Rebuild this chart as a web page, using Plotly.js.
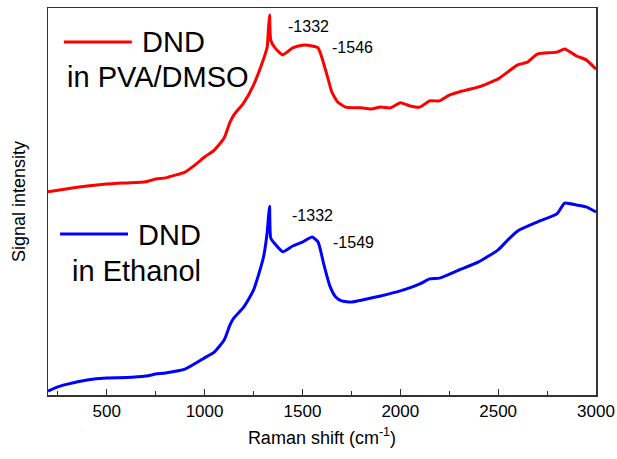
<!DOCTYPE html>
<html>
<head>
<meta charset="utf-8">
<script src="https://cdn.plot.ly/plotly-3.0.1.min.js"></script>
<style>html,body{margin:0;padding:0;background:#fff;}#chart{width:617px;height:459px;}</style>
</head>
<body>
<div id="chart"></div>
<script>
// Raman shift (cm^-1)
const redX = [200,300,400,500,600,700,750,800,850,900,950,1000,1050,1100,1130,1150,1200,1250,1300,1320,1326,1332,1338,1360,1400,1450,1500,1550,1580,1600,1630,1650,1680,1720,1800,1850,1900,1950,2000,2050,2100,2150,2200,2250,2300,2400,2500,2550,2600,2650,2700,2800,2840,2900,2950,3000];
const redY = [52.5,53.3,54.0,54.5,54.8,55.1,55.8,56.1,56.8,57.6,59.4,61.5,63.3,66.4,70.5,72.4,75.5,80.1,86.6,89.9,94.3,98.2,91.7,89.7,87.9,89.7,90.4,90.2,89.7,87.1,81.9,78.3,75.7,74.4,74.2,73.9,74.4,74.2,75.5,74.7,74.4,76.0,76.0,77.5,78.3,79.6,81.7,83.5,85.3,86.0,88.1,88.6,89.4,87.6,86.6,84.2];
const blueX = [200,250,300,400,500,600,700,750,800,900,1000,1050,1100,1130,1150,1200,1250,1300,1320,1326,1332,1338,1360,1400,1450,1500,1550,1580,1610,1640,1670,1700,1750,1800,1900,2000,2100,2150,2200,2300,2400,2500,2550,2600,2700,2800,2840,2900,2950,3000];
const blueY = [1.0,2.1,2.8,3.9,4.4,4.5,4.9,5.4,5.7,6.7,9.6,11.1,14.2,18.1,19.9,22.7,27.1,35.4,42.1,45.7,48.8,40.6,39.0,37.0,38.5,39.5,40.8,39.5,33.6,28.2,25.3,24.3,24.0,24.5,25.6,26.9,28.7,30.0,30.2,32.3,34.4,37.5,40.1,42.4,44.7,46.8,49.6,49.1,48.6,47.3];
const xTickVals = [500,1000,1500,2000,2500,3000];
const xTickText = ['500','1000','1500','2000','2500','3000'];
const peakLabels = [
  {x:1416, y:95.1, text:'-1332'},
  {x:1641, y:89.7, text:'-1546'},
  {x:1437, y:46.5, text:'-1332'},
  {x:1646, y:39.3, text:'-1549'}
];
const seriesNames = ['DND<br>in PVA/DMSO','DND<br>in Ethanol'];

const FONT = 'Liberation Sans, Arial, sans-serif';
const traces = [
  {x:redX, y:redY, mode:'lines', line:{color:'#ff0000', width:3, shape:'spline', smoothing:0.5}, name:seriesNames[0], showlegend:false},
  {x:blueX, y:blueY, mode:'lines', line:{color:'#0000ff', width:3, shape:'spline', smoothing:0.5}, name:seriesNames[1], showlegend:false}
];

const annotations = peakLabels.map(p => ({x:p.x, y:p.y, xref:'x', yref:'y', text:p.text, showarrow:false, xanchor:'left', yanchor:'middle', font:{family:FONT, size:16, color:'#000'}}));
annotations.push(
  {x:0.168, y:0.912, xref:'paper', yref:'paper', text:'DND', showarrow:false, xanchor:'left', yanchor:'middle', font:{family:FONT, size:29, color:'#000'}},
  {x:0.031, y:0.822, xref:'paper', yref:'paper', text:'in PVA/DMSO', showarrow:false, xanchor:'left', yanchor:'middle', font:{family:FONT, size:29, color:'#000'}},
  {x:0.161, y:0.413, xref:'paper', yref:'paper', text:'DND', showarrow:false, xanchor:'left', yanchor:'middle', font:{family:FONT, size:29, color:'#000'}},
  {x:0.040, y:0.320, xref:'paper', yref:'paper', text:'in Ethanol', showarrow:false, xanchor:'left', yanchor:'middle', font:{family:FONT, size:29, color:'#000'}}
);

const shapes = [
  {type:'line', xref:'paper', yref:'paper', x0:0.029, x1:0.153, y0:0.912, y1:0.912, line:{color:'#ff0000', width:3}},
  {type:'line', xref:'paper', yref:'paper', x0:0.022, x1:0.146, y0:0.416, y1:0.416, line:{color:'#0000ff', width:3}}
];

const layout = {
  width:617, height:459,
  margin:{l:48, r:21, t:8, b:64},
  paper_bgcolor:'#fff', plot_bgcolor:'#fff',
  showlegend:false,
  xaxis:{
    range:[200,3000], showgrid:false, zeroline:false,
    showline:true, mirror:true, linecolor:'#333', linewidth:1.5,
    ticks:'inside', ticklen:6, tickwidth:1, tickcolor:'#333',
    tickmode:'array', tickvals:xTickVals, ticktext:xTickText,
    minor:{ticks:'inside', ticklen:4, tickwidth:1, tickcolor:'#333', dtick:250, tick0:0, showgrid:false},
    tickfont:{family:FONT, size:17, color:'#000'},
    title:{text:'Raman shift (cm<sup>-1</sup>)', font:{family:FONT, size:18, color:'#000'}, standoff:11}
  },
  yaxis:{
    range:[0,100], showgrid:false, zeroline:false,
    showline:true, mirror:true, linecolor:'#333', linewidth:1.5,
    ticks:'', showticklabels:false,
    title:{text:'Signal intensity', font:{family:FONT, size:18, color:'#000'}, standoff:16}
  },
  annotations:annotations,
  shapes:shapes
};

Plotly.newPlot('chart', traces, layout, {displayModeBar:false, staticPlot:true});
</script>
</body>
</html>
